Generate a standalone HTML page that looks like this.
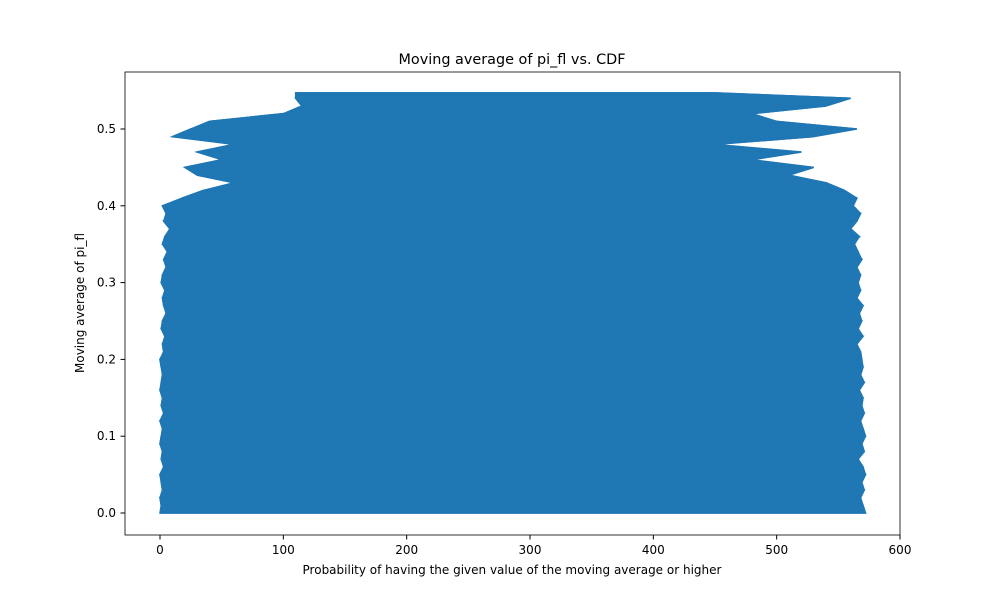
<!DOCTYPE html>
<html><head><meta charset="utf-8"><style>
body{margin:0;background:#fff;font-family:"DejaVu Sans","Liberation Sans",sans-serif;}
svg text{font-family:"DejaVu Sans","Liberation Sans",sans-serif;}
</style></head><body>
<svg id="chart" width="1000" height="600">
<rect width="1000" height="600" fill="#fff"/>
<g id="plot"></g>
<rect x="125" y="72" width="775" height="463" fill="none" stroke="#000" stroke-width="0.8"/>
<g id="axes"></g>
<text x="512" y="64" text-anchor="middle" font-size="14.4">Moving average of pi_fl vs. CDF</text>
<text x="512" y="574" text-anchor="middle" font-size="12">Probability of having the given value of the moving average or higher</text>
<text transform="translate(84,303) rotate(-90)" text-anchor="middle" font-size="12">Moving average of pi_fl</text>
</svg>
<script>
const levels=[0,0.01,0.02,0.03,0.04,0.05,0.06,0.07,0.08,0.09,0.10,0.11,0.12,0.13,0.14,0.15,0.16,0.17,0.18,0.19,0.20,
0.21,0.22,0.23,0.24,0.25,0.26,0.27,0.28,0.29,0.30,0.31,0.32,0.33,0.34,0.35,0.36,0.37,0.38,0.39,0.40,
0.41,0.42,0.43,0.44,0.45,0.46,0.47,0.48,0.49,0.50,0.51,0.52,0.53,0.54,0.547];
const leftVals=[0,1,0,2,1,0,3,1,2,0,1,2,0,3,1,2,0,1,2,1,0,
3,2,4,1,2,5,3,2,4,1,2,5,3,6,2,4,8,3,5,2,
18,35,60,30,20,50,30,60,10,25,40,100,115,110,110];
const rightVals=[572,570,568,571,569,572,570,566,571,569,572,570,568,571,569,570,567,571,568,570,569,
568,565,570,566,569,567,570,565,568,566,568,565,569,566,563,567,560,565,568,562,
565,555,540,510,530,480,520,450,530,565,500,480,540,560,450];
const xTicks=[0,100,200,300,400,500,600];
const yTicks=[0.0,0.1,0.2,0.3,0.4,0.5];
const NS='http://www.w3.org/2000/svg';
const xs=v=>160+v*(740/600);
const ys=v=>513-v*768;
const plot=document.getElementById('plot');
// envelope fill
let env=[];
for(let i=0;i<levels.length;i++) env.push(xs(leftVals[i])+','+ys(levels[i]));
for(let i=levels.length-1;i>=0;i--) env.push(xs(rightVals[i])+','+ys(levels[i]));
const pg=document.createElementNS(NS,'polygon');
pg.setAttribute('points',env.join(' '));
pg.setAttribute('fill','#1f77b4');
pg.setAttribute('stroke','#1f77b4');
pg.setAttribute('stroke-width','1.5');


plot.appendChild(pg);
let pts=[];
for(let i=0;i<levels.length;i++){
  const y=ys(levels[i]);
  if(i%2===0){pts.push(xs(leftVals[i])+','+y,xs(rightVals[i])+','+y);}
  else{pts.push(xs(rightVals[i])+','+y,xs(leftVals[i])+','+y);}
}
const pl=document.createElementNS(NS,'polyline');
pl.setAttribute('points',pts.join(' '));
pl.setAttribute('fill','none');
pl.setAttribute('stroke','#1f77b4');
pl.setAttribute('stroke-width','1.5');


plot.appendChild(pl);
const axes=document.getElementById('axes');
xTicks.forEach(t=>{
  const x=xs(t);
  const l=document.createElementNS(NS,'line');
  l.setAttribute('x1',x);l.setAttribute('x2',x);l.setAttribute('y1',535);l.setAttribute('y2',539.5);l.setAttribute('stroke','#000');
  
  
  axes.appendChild(l);
  const tx=document.createElementNS(NS,'text');
  tx.setAttribute('x',x);tx.setAttribute('y',554);tx.setAttribute('text-anchor','middle');tx.setAttribute('font-size','12');
  tx.textContent=t;
  
  
  axes.appendChild(tx);
});
yTicks.forEach(t=>{
  const y=ys(t);
  const l=document.createElementNS(NS,'line');
  l.setAttribute('x1',120.5);l.setAttribute('x2',125);l.setAttribute('y1',y);l.setAttribute('y2',y);l.setAttribute('stroke','#000');
  
  
  axes.appendChild(l);
  const tx=document.createElementNS(NS,'text');
  tx.setAttribute('x',116);tx.setAttribute('y',y+4);tx.setAttribute('text-anchor','end');tx.setAttribute('font-size','12');
  tx.textContent=t.toFixed(1);
  
  
  axes.appendChild(tx);
});
</script>
</body></html>
